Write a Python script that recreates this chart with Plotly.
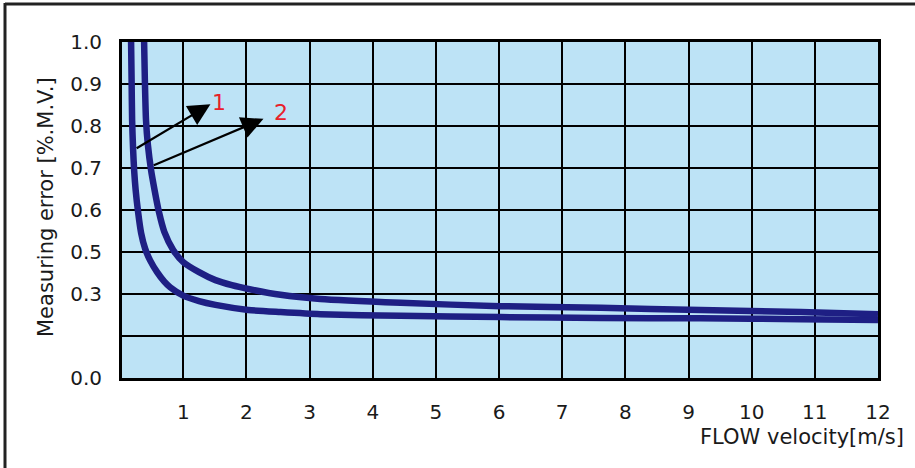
import plotly.graph_objects as go

# ---- data (y in grid-position units; tick labels below) ----
curve1_x = [0.174, 0.182, 0.190, 0.206, 0.222, 0.246, 0.285, 0.333, 0.396, 0.475, 0.586, 0.697,
            0.792, 1.0, 1.25, 1.51, 2.03, 2.54, 3.17, 4.44, 6.02, 7.61, 9.19, 10.78, 12.0]
curve1_y = [8.0, 7.10, 6.14, 5.43, 4.95, 4.48, 3.95, 3.45, 3.08, 2.80, 2.52, 2.30,
            2.16, 1.96, 1.83, 1.74, 1.62, 1.57, 1.52, 1.48, 1.45, 1.43, 1.42, 1.40, 1.38]
curve2_x = [0.38, 0.392, 0.41, 0.44, 0.49, 0.545, 0.615, 0.70, 0.84, 1.0, 1.25, 1.51,
            1.77, 2.03, 2.54, 3.17, 4.44, 6.02, 7.61, 9.19, 10.78, 12.0]
curve2_y = [8.0, 7.10, 6.14, 5.55, 4.95, 4.48, 3.95, 3.48, 3.05, 2.76, 2.52, 2.33,
            2.21, 2.12, 1.98, 1.88, 1.79, 1.71, 1.67, 1.62, 1.57, 1.52]

x_ticks = [1, 2, 3, 4, 5, 6, 7, 8, 9, 10, 11, 12]
y_tick_vals = [0, 1, 2, 3, 4, 5, 6, 7, 8]
y_tick_text = ["0.0", "", "0.3", "0.5", "0.6", "0.7", "0.8", "0.9", "1.0"]

labels = ["1", "2"]
arrow_tail_x = [0.238, 0.51]
arrow_tail_y = [5.45, 5.05]
arrow_head_x = [1.43, 2.27]
arrow_head_y = [6.52, 6.17]
label_x = [1.57, 2.55]
label_y = [6.55, 6.33]

FONT = "DejaVu Sans"
LINE = "#1e1f84"
TXT = "#1a1a1a"
W, H = 915, 468
ML, MR, MT, MB = 122, 37, 42, 90
pw, ph = W - ML - MR, H - MT - MB


def px(xp):
    return (xp - ML) / pw


def py(yp):
    return (H - MB - yp) / ph


fig = go.Figure()
for xs, ys in [(curve1_x, curve1_y), (curve2_x, curve2_y)]:
    fig.add_trace(go.Scatter(x=xs, y=ys, mode="lines",
                             line=dict(color=LINE, width=6.5, shape="spline", smoothing=0.6),
                             showlegend=False, hoverinfo="skip"))

for i in range(2):
    fig.add_annotation(x=arrow_head_x[i], y=arrow_head_y[i], ax=arrow_tail_x[i], ay=arrow_tail_y[i],
                       xref="x", yref="y", axref="x", ayref="y", text="",
                       showarrow=True, arrowhead=2, arrowsize=2.0, arrowwidth=2.2, arrowcolor="black")
    fig.add_annotation(x=label_x[i], y=label_y[i], xref="x", yref="y", text=labels[i],
                       showarrow=False, font=dict(family=FONT, size=22, color="#e8202a"))

fig.add_annotation(x=px(906), y=py(437), xref="paper", yref="paper", text="FLOW velocity[m/s]",
                   xanchor="right", yanchor="middle", showarrow=False,
                   font=dict(family=FONT, size=21, color=TXT))
fig.add_annotation(x=px(46), y=py(207), xref="paper", yref="paper", text="Measuring error [%.M.V.]",
                   xanchor="center", yanchor="middle",
                   textangle=-90, showarrow=False, font=dict(family=FONT, size=21, color=TXT))

fig.update_layout(
    width=W, height=H,
    margin=dict(l=ML, r=MR, t=MT, b=MB),
    paper_bgcolor="white", plot_bgcolor="#bde3f6",
    font=dict(family=FONT, size=20, color=TXT),
    shapes=[
        dict(type="line", xref="paper", yref="paper", x0=px(5), x1=px(915), y0=py(4), y1=py(4),
             line=dict(color="#222", width=3)),
        dict(type="line", xref="paper", yref="paper", x0=px(5), x1=px(5), y0=py(3), y1=py(468),
             line=dict(color="#222", width=3)),
    ],
)

fig.update_xaxes(range=[0.03, 12], tickvals=x_ticks, showgrid=True, gridcolor="black", gridwidth=2,
                 showline=True, linecolor="black", linewidth=3, mirror=True, zeroline=False,
                 ticks="", ticklabelstandoff=14, tickfont=dict(family=FONT, size=20, color=TXT))
fig.update_yaxes(range=[0, 8], tickvals=y_tick_vals, ticktext=y_tick_text, showgrid=True,
                 gridcolor="black", gridwidth=2, showline=True, linecolor="black", linewidth=3,
                 mirror=True, zeroline=False, ticks="", ticklabelstandoff=13,
                 tickfont=dict(family=FONT, size=20, color=TXT))

fig.write_html("out.html", config={"displayModeBar": False},
               post_script="document.body.style.margin='0';document.body.style.overflow='hidden';")
